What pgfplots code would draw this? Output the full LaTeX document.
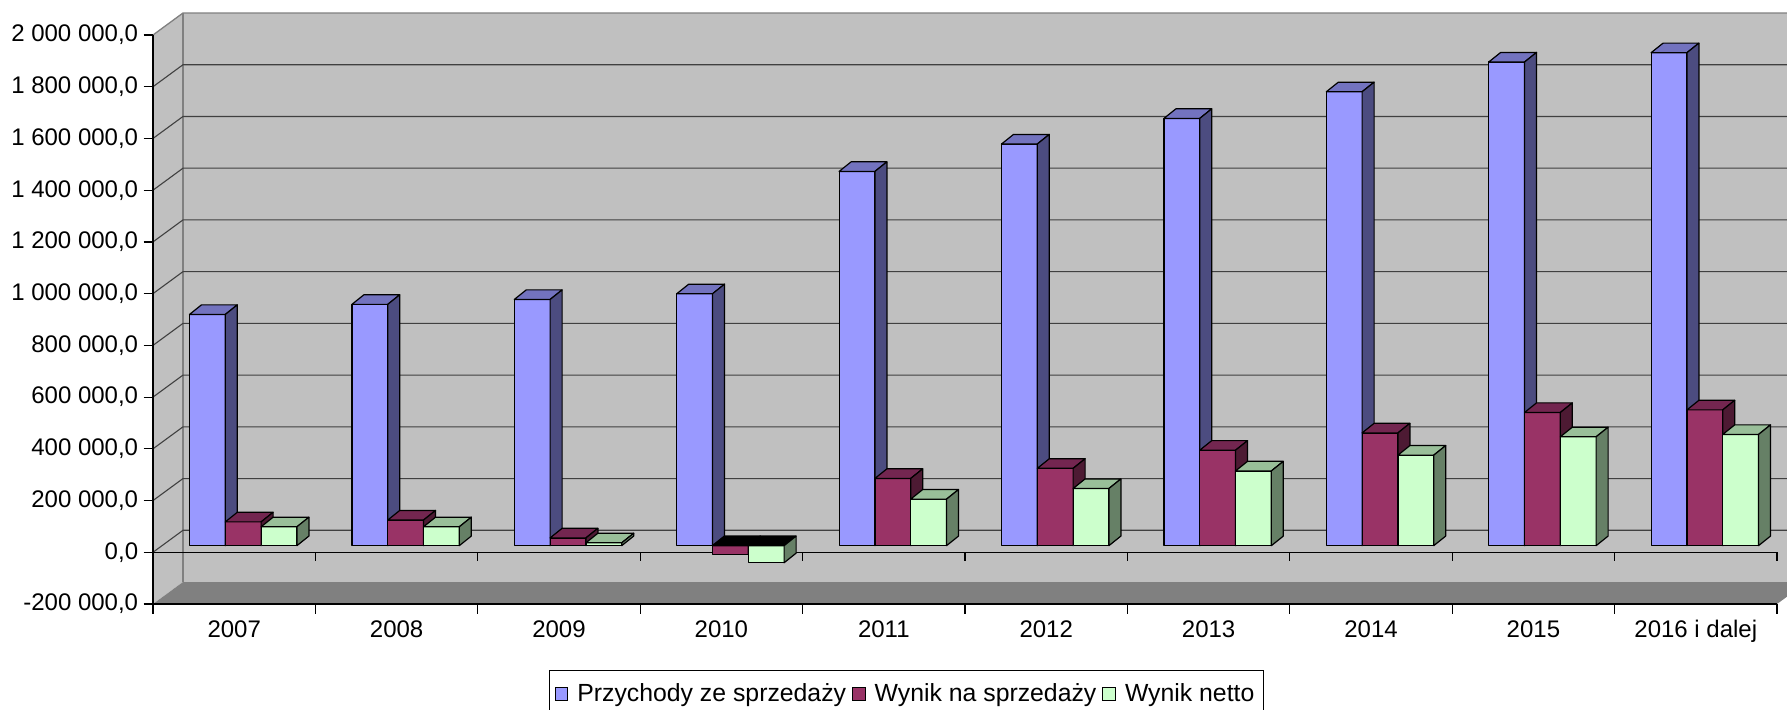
\documentclass[border=0pt]{standalone}
\usepackage{pgfplots}
\pgfplotsset{compat=1.18}
\usepackage{pgfplotstable}
\usepackage{fontspec}
\setmainfont{Liberation Sans}

\definecolor{blueF}{HTML}{9999FF}
\definecolor{blueT}{HTML}{7373BF}
\definecolor{blueS}{HTML}{4C4C80}
\definecolor{redF}{HTML}{993366}
\definecolor{redT}{HTML}{732650}
\definecolor{redS}{HTML}{4D1A33}
\definecolor{greenF}{HTML}{CCFFCC}
\definecolor{greenT}{HTML}{99BF99}
\definecolor{greenS}{HTML}{668066}
\definecolor{wallc}{HTML}{C0C0C0}
\definecolor{floorc}{HTML}{808080}

\pgfplotstableread{
x rev sales net
0 894000 92000 73000
1 933000 99000 73000
2 952000 30000 11000
3 974000 -33000 -66000
4 1447000 260000 180000
5 1553000 299000 221000
6 1652000 369000 289000
7 1755000 436000 350000
8 1870000 515000 421000
9 1906000 525000 430000
}\datatable

% axis: 284.5pt for 2 200 000 units -> 0.000129318 pt per unit
\newcommand\drawbox[4]{%
  \pgfkeys{/pgf/fpu=true,/pgf/fpu/output format=fixed}%
  \pgfmathparse{\pgfplotspointmeta*0.000129318}%
  \global\let\hh\pgfmathresult
  \pgfkeys{/pgf/fpu=false}%
  \pgfmathsetlengthmacro\xl{#1-8.95pt}%
  \pgfmathsetlengthmacro\xr{#1+8.95pt}%
  \pgfmathsetlengthmacro\yt{max(0,-(\hh))+3.3}%
  \pgfmathsetlengthmacro\yb{min(0,-(\hh))+3.3}%
  \pgfsetlinewidth{0.6pt}\pgfsetroundjoin\pgfsetstrokecolor{black}%
  \pgfsetfillcolor{#2}%
  \pgfpathrectanglecorners{\pgfpoint{\xl}{\yb}}{\pgfpoint{\xr}{\yt}}%
  \pgfusepath{fill,stroke}%
  \ifdim\hh pt<0pt \pgfsetfillcolor{black}\else\pgfsetfillcolor{#3}\fi
  \pgfpathmoveto{\pgfpoint{\xl}{\yt}}%
  \pgfpathlineto{\pgfpoint{\xr}{\yt}}%
  \pgfpathlineto{\pgfpoint{\xr+6pt}{\yt+4.8pt}}%
  \pgfpathlineto{\pgfpoint{\xl+6pt}{\yt+4.8pt}}%
  \pgfpathclose\pgfusepath{fill,stroke}%
  \pgfsetfillcolor{#4}%
  \pgfpathmoveto{\pgfpoint{\xr}{\yb}}%
  \pgfpathlineto{\pgfpoint{\xr}{\yt}}%
  \pgfpathlineto{\pgfpoint{\xr+6pt}{\yt+4.8pt}}%
  \pgfpathlineto{\pgfpoint{\xr+6pt}{\yb+4.8pt}}%
  \pgfpathclose\pgfusepath{fill,stroke}%
}
\pgfdeclareplotmark{boxA}{\drawbox{-13.4pt}{blueF}{blueT}{blueS}}
\pgfdeclareplotmark{boxB}{\drawbox{4.5pt}{redF}{redT}{redS}}
\pgfdeclareplotmark{boxC}{\drawbox{22.4pt}{greenF}{greenT}{greenS}}

\begin{document}
\begin{tikzpicture}
\clip (0,0) rectangle (893.5pt,354.5pt);
% 3-D frame of the chart (walls, floor, grid), front plane: x 76.5..888.5pt, y 52.5..337pt
\begin{scope}[overlay]
\fill[wallc] (91.5pt,63.5pt) rectangle (903.5pt,348pt);
\fill[wallc] (76.5pt,52.5pt) -- (91.5pt,63.5pt) -- (91.5pt,348pt) -- (76.5pt,337pt) -- cycle;
\fill[floorc] (76.5pt,52.5pt) -- (888.5pt,52.5pt) -- (903.5pt,63.5pt) -- (91.5pt,63.5pt) -- cycle;
\draw[floorc, line width=0.65pt] (76.5pt,337pt) -- (91.5pt,348pt) -- (903.5pt,348pt);
\draw[floorc, line width=0.65pt] (91.5pt,63.5pt) -- (91.5pt,348pt);
\foreach \k in {1,...,10}{
  \pgfmathsetmacro\yy{52.5+\k*25.8636}
  \draw[black!75, line width=0.55pt] (76.5pt,\yy pt) -- (91.5pt,\yy pt+11pt) -- (903.5pt,\yy pt+11pt);
}
\draw[black, line width=0.6pt] (76.5pt,78.364pt) -- (888.5pt,78.364pt);
\foreach \j in {0,...,10}{
  \draw[black, line width=0.6pt] (76.5pt+\j*81.2pt,78.364pt) -- ++(0,-4.5pt);
}
\end{scope}
\begin{axis}[
  scale only axis, width=812pt, height=284.5pt,
  at={(76.5pt,52.5pt)}, anchor=south west,
  xmin=-0.5, xmax=9.5, ymin=-200000, ymax=2000000,
  enlargelimits=false,
  clip=false,
  axis lines=left,
  axis line style={-, black, line width=0.6pt},
  xtick={-0.5,0.5,...,9.5}, xticklabels={},
  extra x ticks={0,1,2,3,4,5,6,7,8,9},
  extra x tick labels={2007,2008,2009,2010,2011,2012,2013,2014,2015,2016 i dalej},
  extra x tick style={tick style={draw=none}},
  ytick={-200000,0,200000,400000,600000,800000,1000000,1200000,1400000,1600000,1800000,2000000},
  tick align=outside, major tick length=4.75pt,
  tick style={black, line width=0.6pt},
  scaled y ticks=false,
  tick label style={font=\fontsize{12}{14.4}\selectfont},
  yticklabel style={inner xsep=2.5pt, /pgf/number format/.cd, fixed, fixed zerofill, precision=1, use comma, 1000 sep={\ }, assume math mode=true},
  legend columns=3,
  legend cell align=left,
  legend style={overlay, at={(0.464,-0.116)}, anchor=north, draw=black, line width=0.5pt,
    font=\fontsize{12.4}{14.8}\selectfont, inner xsep=2.5pt, inner ysep=4.5pt,
    /tikz/every odd column/.append style={column sep=2.5pt},
    /tikz/every even column/.append style={column sep=1pt}},
  every axis plot/.append style={scatter, only marks, point meta=explicit symbolic,
    scatter/@pre marker code/.code={}, scatter/@post marker code/.code={}},
]
\addplot[mark=boxA,
  legend image code/.code={\draw[fill=blueF,line width=0.5pt] (0pt,-3.15pt) rectangle (6.3pt,3.15pt);}]
  table[x=x,y=rev,meta=rev]{\datatable};
\addplot[mark=boxB,
  legend image code/.code={\draw[fill=redF,line width=0.5pt] (0pt,-3.15pt) rectangle (6.3pt,3.15pt);}]
  table[x=x,y=sales,meta=sales]{\datatable};
\addplot[mark=boxC,
  legend image code/.code={\draw[fill=greenF,line width=0.5pt] (0pt,-3.15pt) rectangle (6.3pt,3.15pt);}]
  table[x=x,y=net,meta=net]{\datatable};
\legend{Przychody ze sprzedaży, Wynik na sprzedaży\hspace{4.5pt}, Wynik netto}
\end{axis}
\end{tikzpicture}
\end{document}
